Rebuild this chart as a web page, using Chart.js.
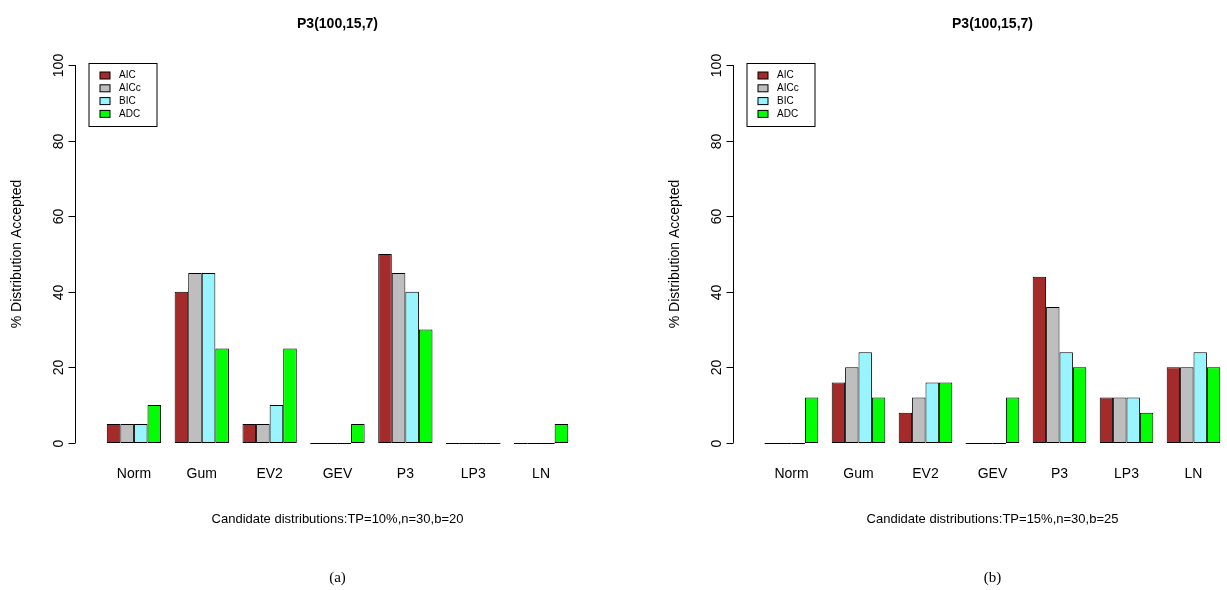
<!DOCTYPE html>
<html><head><meta charset="utf-8">
<script src="https://cdn.jsdelivr.net/npm/chart.js@4"></script>
<style>
body{margin:0;background:#fff;width:1227px;height:590px;overflow:hidden;position:relative}
canvas{position:absolute;top:0}
</style></head><body>
<canvas id="c1" style="left:0" width="613" height="590"></canvas>
<canvas id="c2" style="left:613px" width="614" height="590"></canvas>
<script>
const categories = ["Norm","Gum","EV2","GEV","P3","LP3","LN"];
const seriesNames = ["AIC","AICc","BIC","ADC"];
const seriesColors = ["#A52A2A","#BEBEBE","#98F5FF","#00FF00"];
const yTicks = [0,20,40,60,80,100];
// panel (a)
const aAIC  = [5,40,5,0,50,0,0];
const aAICc = [5,45,5,0,45,0,0];
const aBIC  = [5,45,10,0,40,0,0];
const aADC  = [10,25,25,5,30,0,5];
// panel (b)
const bAIC  = [0,16,8,0,44,12,20];
const bAICc = [0,20,12,0,36,12,20];
const bBIC  = [0,24,16,0,24,12,24];
const bADC  = [12,12,16,12,20,8,20];

const F = "Liberation Sans, Arial, sans-serif";

const rPlot = {
  id:"rPlot",
  afterDatasetsDraw(chart, args, opts){
    const ctx = chart.ctx, a = chart.chartArea, y = chart.scales.y, x = chart.scales.x;
    ctx.save();
    ctx.strokeStyle = "#000"; ctx.fillStyle = "#000"; ctx.lineWidth = 1;
    // zero bars as flat lines
    chart.data.datasets.forEach((ds, i) => {
      chart.getDatasetMeta(i).data.forEach((bar, j) => {
        if (ds.data[j] === 0) {
          const y0 = Math.round(y.getPixelForValue(0)) + 0.5;
          ctx.beginPath(); ctx.moveTo(bar.x - bar.width/2, y0); ctx.lineTo(bar.x + bar.width/2, y0); ctx.stroke();
        }
      });
    });
    // y axis
    const ax = a.left - opts.axisGap + 0.5;
    ctx.beginPath();
    ctx.moveTo(ax, y.getPixelForValue(0)); ctx.lineTo(ax, y.getPixelForValue(100)); ctx.stroke();
    ctx.font = "14px " + F; ctx.textAlign = "center"; ctx.textBaseline = "bottom";
    yTicks.forEach(t => {
      const py = Math.round(y.getPixelForValue(t)) + 0.5;
      ctx.beginPath(); ctx.moveTo(ax, py); ctx.lineTo(ax - 7, py); ctx.stroke();
      ctx.save(); ctx.translate(ax - 9, py); ctx.rotate(-Math.PI/2); ctx.fillText(String(t), 0, 0); ctx.restore();
    });
    ctx.save(); ctx.translate(ax - 58, (y.getPixelForValue(0)+y.getPixelForValue(100))/2); ctx.rotate(-Math.PI/2);
    ctx.textBaseline = "middle"; ctx.fillText("% Distribution Accepted", 0, 0); ctx.restore();
    // x labels
    ctx.textBaseline = "middle";
    categories.forEach((c, i) => ctx.fillText(c, x.getPixelForValue(i), 474));
    const cx = (a.left + a.right) / 2;
    ctx.font = "13px " + F;
    ctx.fillText(opts.xlab, cx, 519);
    ctx.font = "bold 14px " + F; ctx.fillText("P3(100,15,7)", cx, 24);
    ctx.font = "15px Liberation Serif, Times New Roman, serif"; ctx.fillText(opts.tag, cx, 578);
    // legend
    const lx = ax + 13.5, ly = 63.5;
    ctx.strokeRect(lx, ly, 68, 63);
    ctx.font = "10px " + F; ctx.textAlign = "left";
    chart.data.datasets.forEach((ds, i) => {
      const ry = ly + 12 + i * 12.8;
      ctx.fillStyle = ds.backgroundColor; ctx.fillRect(lx + 11, ry - 3.5, 10, 7);
      ctx.strokeRect(lx + 11, ry - 3.5, 10, 7);
      ctx.fillStyle = "#000"; ctx.fillText(ds.label, lx + 30, ry);
    });
    ctx.restore();
  }
};

function makeChart(id, series, pad, gap, xlab, tag){
  new Chart(document.getElementById(id), {
    type: "bar",
    data: {
      labels: categories,
      datasets: series.map((d, i) => ({
        label: seriesNames[i], data: d, backgroundColor: seriesColors[i],
        borderColor: "#000", borderWidth: 1, borderSkipped: false,
        categoryPercentage: 0.8, barPercentage: 1
      }))
    },
    options: {
      responsive: false, animation: false,
      layout: { padding: pad },
      scales: {
        x: { display: false },
        y: { display: false, min: -4, max: 104 }
      },
      plugins: { legend: { display: false }, tooltip: { enabled: false },
        rPlot: { axisGap: gap, xlab: xlab, tag: tag } }
    },
    plugins: [rPlot]
  });
}
makeChart("c1", [aAIC,aAICc,aBIC,aADC], {left:100, right:38, top:50, bottom:132}, 25,
  "Candidate distributions:TP=10%,n=30,b=20", "(a)");
makeChart("c2", [bAIC,bAICc,bBIC,bADC], {left:145, right:0, top:50, bottom:132}, 25,
  "Candidate distributions:TP=15%,n=30,b=25", "(b)");
</script>
</body></html>
